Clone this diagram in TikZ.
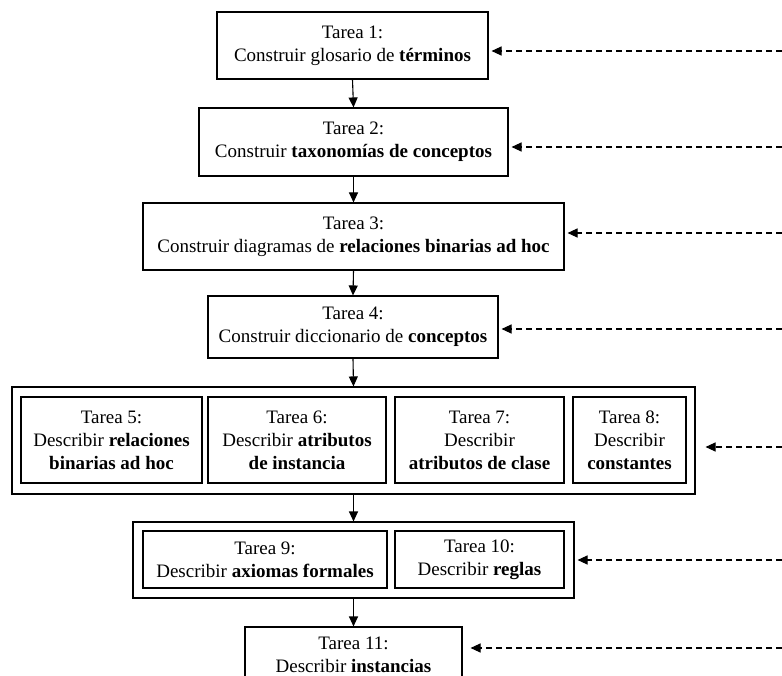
\documentclass[tikz,border=0pt]{standalone}
\usepackage{fontspec}
\setmainfont{Liberation Serif}
\usetikzlibrary{arrows.meta}
\tikzset{
  taskbox/.style={draw=black, line width=1.1pt, inner sep=0pt, align=center,
    font=\fontsize{19}{23}\selectfont},
  groupbox/.style={draw=black, line width=1.1pt, inner sep=0pt},
  flow/.style={draw=black, line width=1.1pt, -{Triangle[length=10pt,width=9pt]}},
  feed/.style={draw=black, line width=1.1pt, dash pattern=on 6pt off 4pt, -{Triangle[length=10pt,width=9pt]}}
}
\begin{document}
\begin{tikzpicture}[x=1pt,y=-1pt]
\useasboundingbox (0,0) rectangle (782,676);
\clip (0,0) rectangle (782,676);
% main column
\node[taskbox, minimum width=271pt, minimum height=67pt] (b1) at (352.5,45.5) {Tarea 1:\\Construir glosario de \textbf{términos}};
\node[taskbox, minimum width=309pt, minimum height=68pt] (b2) at (353.5,142) {Tarea 2:\\Construir \textbf{taxonomías de conceptos}};
\node[taskbox, minimum width=421pt, minimum height=67pt] (b3) at (353.5,236.5) {Tarea 3:\\Construir diagramas de \textbf{relaciones binarias ad hoc}};
\node[taskbox, minimum width=290pt, minimum height=62pt] (b4) at (353,327) {Tarea 4:\\Construir diccionario de \textbf{conceptos}};
% group 1
\node[groupbox, minimum width=683pt, minimum height=107pt] (g1) at (353.5,440.5) {};
\node[taskbox, minimum width=181pt, minimum height=86pt] (b5) at (111.5,440) {Tarea 5:\\Describir \textbf{relaciones}\\\textbf{binarias ad hoc}};
\node[taskbox, minimum width=178pt, minimum height=86pt] (b6) at (297,440) {Tarea 6:\\Describir \textbf{atributos}\\\textbf{de instancia}};
\node[taskbox, minimum width=169pt, minimum height=86pt] (b7) at (479.5,440) {Tarea 7:\\Describir\\\textbf{atributos de clase}};
\node[taskbox, minimum width=113pt, minimum height=86pt] (b8) at (629.5,440) {Tarea 8:\\Describir\\\textbf{constantes}};
% group 2
\node[groupbox, minimum width=441pt, minimum height=76pt] (g2) at (353.5,560) {};
\node[taskbox, minimum width=244pt, minimum height=57pt] (b9) at (265,559.5) {Tarea 9:\\Describir \textbf{axiomas formales}};
\node[taskbox, minimum width=169pt, minimum height=57pt] (b10) at (479.5,559.5) {Tarea 10:\\Describir \textbf{reglas}};
% last
\node[taskbox, minimum width=217pt, minimum height=56pt] (b11) at (353.5,655) {Tarea 11:\\Describir \textbf{instancias}};
% flow arrows
\draw[flow] (b1.south) -- (b2.north);
\draw[flow] (b2.south) -- (b3.north);
\draw[flow] (b3.south) -- (b4.north);
\draw[flow] (b4.south) -- (g1.north);
\draw[flow] (g1.south) -- (g2.north);
\draw[flow] (g2.south) -- (b11.north);
% feedback arrows
\coordinate (f1) at (782,51);
\coordinate (f2) at (782,147);
\coordinate (f3) at (782,233);
\coordinate (f4) at (782,329);
\coordinate (f5) at (782,447);
\coordinate (f6) at (782,560);
\coordinate (f7) at (782,648);
\draw[feed] (f1) -- ([xshift=3pt]f1 -| b1.east);
\draw[feed] (f2) -- ([xshift=3pt]f2 -| b2.east);
\draw[feed] (f3) -- ([xshift=3pt]f3 -| b3.east);
\draw[feed] (f4) -- ([xshift=3pt]f4 -| b4.east);
\draw[feed] (f5) -- ([xshift=10pt]f5 -| g1.east);
\draw[feed] (f6) -- ([xshift=3pt]f6 -| g2.east);
\draw[feed] (f7) -- ([xshift=8pt]f7 -| b11.east);
\end{tikzpicture}
\end{document}
